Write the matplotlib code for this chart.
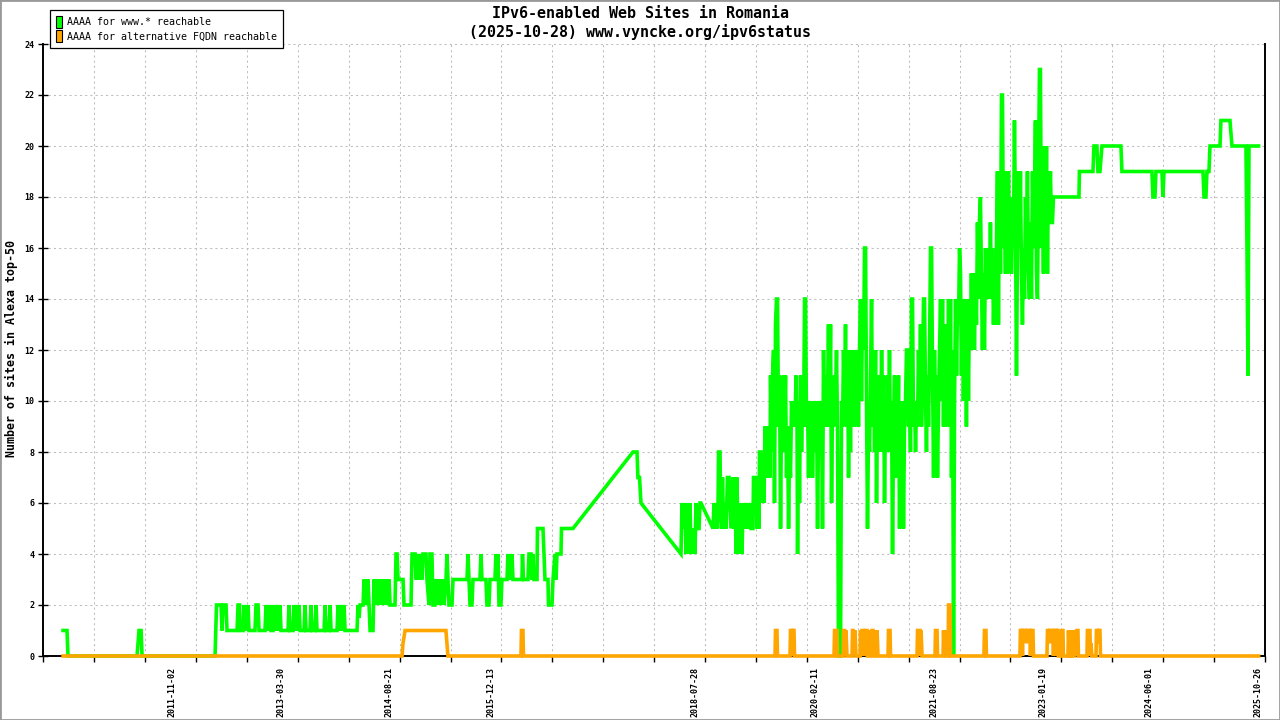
"""
IPv6-enabled web sites in Romania (vyncke.org ipv6status style chart)
"""
import numpy as np
import pandas as pd
import matplotlib
matplotlib.use('Agg')
import matplotlib.pyplot as plt
from matplotlib.patches import Patch, Rectangle

plt.rcParams['font.family'] = ['DejaVu Sans Mono']

title_line1 = "IPv6-enabled Web Sites in Romania"
title_line2 = "(2025-10-28) www.vyncke.org/ipv6status"
y_label = "Number of sites in Alexa top-50"
legend_labels = ["AAAA for www.* reachable", "AAAA for alternative FQDN reachable"]

label_dates = ["2011-11-02", "2013-03-30", "2014-08-21", "2015-12-13", "2018-07-28",
               "2020-02-11", "2021-08-23", "2023-01-19", "2024-06-01", "2025-10-26"]
y_ticks = list(range(0, 25, 2))

# green series: sites with AAAA for www.* (decimal year, count)
www_year = [
    2010.438, 2010.489, 2010.502, 2011.390, 2011.416, 2011.442, 2011.455, 2012.394, 2012.413,
    2012.420, 2012.471, 2012.484, 2012.497, 2012.535, 2012.548, 2012.677, 2012.690, 2012.709, 2012.715,
    2012.754, 2012.767, 2012.780, 2012.793, 2012.806, 2012.818, 2012.831, 2012.908, 2012.921, 2012.947, 2012.960,
    2013.037, 2013.050, 2013.063, 2013.076, 2013.089, 2013.102, 2013.114, 2013.140, 2013.153, 2013.166,
    2013.179, 2013.192, 2013.205, 2013.217, 2013.230, 2013.243, 2013.333, 2013.346, 2013.359, 2013.398,
    2013.410, 2013.423, 2013.436, 2013.449, 2013.475, 2013.488, 2013.539, 2013.552, 2013.565, 2013.616,
    2013.629, 2013.642, 2013.681, 2013.694, 2013.706, 2013.797, 2013.810, 2013.822, 2013.861, 2013.874,
    2013.887, 2013.964, 2013.977, 2013.990,
    2014.003, 2014.015, 2014.028, 2014.041, 2014.054, 2014.067, 2014.093, 2014.221, 2014.234, 2014.247,
    2014.260, 2014.299, 2014.311, 2014.324, 2014.337, 2014.350, 2014.363, 2014.376, 2014.389, 2014.427,
    2014.440, 2014.453, 2014.466, 2014.479, 2014.492, 2014.517, 2014.530, 2014.543, 2014.569, 2014.582,
    2014.594, 2014.607, 2014.633, 2014.646, 2014.710, 2014.723, 2014.736, 2014.749, 2014.813, 2014.826,
    2014.916, 2014.929, 2014.968, 2014.981, 2014.992,
    2015.018, 2015.031, 2015.057, 2015.069, 2015.108, 2015.121, 2015.147, 2015.160, 2015.185, 2015.198,
    2015.224, 2015.237, 2015.250, 2015.263, 2015.275, 2015.288, 2015.301, 2015.327, 2015.340, 2015.366,
    2015.379, 2015.391, 2015.404, 2015.443, 2015.456, 2015.636, 2015.649, 2015.662, 2015.675, 2015.700,
    2015.713, 2015.803, 2015.816, 2015.829, 2015.880, 2015.893, 2015.919, 2015.932, 2015.996,
    2016.009, 2016.022, 2016.035, 2016.048, 2016.073, 2016.086, 2016.151, 2016.163, 2016.176, 2016.189,
    2016.202, 2016.215, 2016.228, 2016.344, 2016.350, 2016.363, 2016.421, 2016.434, 2016.460, 2016.472,
    2016.485, 2016.498, 2016.537, 2016.543, 2016.614, 2016.627, 2016.640, 2016.678, 2016.685, 2016.730,
    2016.743, 2016.769, 2016.782, 2016.794, 2016.846, 2016.852, 2017.000,
    2017.772, 2017.824, 2017.836, 2017.856, 2017.875,
    2018.390, 2018.403, 2018.422, 2018.441, 2018.454, 2018.467, 2018.480, 2018.493, 2018.506, 2018.519,
    2018.538, 2018.544, 2018.557, 2018.570, 2018.583, 2018.596, 2018.622, 2018.634, 2018.647, 2018.802,
    2018.815, 2018.828, 2018.841, 2018.854, 2018.867, 2018.873, 2018.892, 2018.899, 2018.911, 2018.924,
    2018.937, 2018.957, 2018.970, 2018.988,
    2019.008, 2019.021, 2019.033, 2019.059, 2019.072, 2019.085, 2019.098, 2019.111, 2019.124, 2019.136,
    2019.149, 2019.162, 2019.175, 2019.188, 2019.201, 2019.226, 2019.239, 2019.252, 2019.265, 2019.278,
    2019.291, 2019.316, 2019.323, 2019.355, 2019.368, 2019.381, 2019.394, 2019.400, 2019.419, 2019.432,
    2019.445, 2019.458, 2019.471, 2019.484, 2019.497, 2019.510, 2019.523, 2019.535, 2019.542, 2019.555,
    2019.568, 2019.581, 2019.593, 2019.606, 2019.619, 2019.632, 2019.645, 2019.658, 2019.671, 2019.684,
    2019.696, 2019.709, 2019.722, 2019.735, 2019.748, 2019.761, 2019.774, 2019.786, 2019.799, 2019.812,
    2019.831, 2019.844, 2019.857, 2019.870, 2019.883, 2019.890, 2019.902, 2019.915, 2019.928, 2019.941,
    2019.954, 2019.967, 2019.980, 2019.993,
    2020.005, 2020.018, 2020.031, 2020.044, 2020.057, 2020.069, 2020.082, 2020.095, 2020.108, 2020.121,
    2020.134, 2020.147, 2020.160, 2020.172, 2020.185, 2020.198, 2020.211, 2020.224, 2020.237, 2020.250,
    2020.263, 2020.275, 2020.288, 2020.301, 2020.314, 2020.327, 2020.340, 2020.353, 2020.366, 2020.378,
    2020.391, 2020.404, 2020.417, 2020.443, 2020.456, 2020.469, 2020.481, 2020.494, 2020.507, 2020.520,
    2020.533, 2020.546, 2020.558, 2020.571, 2020.584, 2020.597, 2020.610, 2020.623, 2020.636, 2020.649,
    2020.662, 2020.674, 2020.687, 2020.700, 2020.713, 2020.726, 2020.739, 2020.752, 2020.765, 2020.777,
    2020.790, 2020.803, 2020.816, 2020.829, 2020.842, 2020.855, 2020.868, 2020.881, 2020.893, 2020.906,
    2020.919, 2020.932, 2020.945, 2020.958, 2020.971, 2020.984, 2020.996,
    2021.009, 2021.022, 2021.035, 2021.048, 2021.060, 2021.073, 2021.086, 2021.099, 2021.112, 2021.125,
    2021.138, 2021.150, 2021.163, 2021.176, 2021.189, 2021.202, 2021.215, 2021.228, 2021.240, 2021.253,
    2021.266, 2021.279, 2021.292, 2021.305, 2021.318, 2021.331, 2021.343, 2021.356, 2021.369, 2021.382,
    2021.395, 2021.408, 2021.421, 2021.434, 2021.446, 2021.459, 2021.472, 2021.485, 2021.498, 2021.511,
    2021.524, 2021.537, 2021.549, 2021.562, 2021.575, 2021.588, 2021.601, 2021.614, 2021.627, 2021.640,
    2021.652, 2021.665, 2021.678, 2021.691, 2021.704, 2021.717, 2021.730, 2021.743, 2021.755, 2021.768,
    2021.781, 2021.794, 2021.807, 2021.820, 2021.833, 2021.846, 2021.858, 2021.871, 2021.884, 2021.897,
    2021.910, 2021.923, 2021.936, 2021.949, 2021.961, 2021.974, 2021.987, 2021.999,
    2022.012, 2022.024, 2022.037, 2022.050, 2022.063, 2022.076, 2022.089, 2022.102, 2022.115, 2022.127,
    2022.140, 2022.153, 2022.166, 2022.179, 2022.192, 2022.205, 2022.218, 2022.230, 2022.243, 2022.256,
    2022.269, 2022.282, 2022.295, 2022.308, 2022.321, 2022.333, 2022.346, 2022.359, 2022.372, 2022.385,
    2022.398, 2022.411, 2022.424, 2022.436, 2022.449, 2022.462, 2022.475, 2022.488, 2022.501, 2022.514,
    2022.527, 2022.539, 2022.552, 2022.565, 2022.578, 2022.591, 2022.604, 2022.617, 2022.630, 2022.642,
    2022.655, 2022.668, 2022.681, 2022.694, 2022.707, 2022.720, 2022.733, 2022.745, 2022.758, 2022.771,
    2022.784, 2022.797, 2022.810, 2022.823, 2022.836, 2022.848, 2022.861, 2022.874, 2022.887, 2022.900,
    2022.913, 2022.926, 2022.939, 2022.951, 2022.964, 2022.977, 2022.990,
    2023.003, 2023.015, 2023.028, 2023.041, 2023.054, 2023.067, 2023.080, 2023.093, 2023.106, 2023.118,
    2023.131, 2023.144, 2023.157, 2023.170, 2023.183, 2023.511, 2023.517, 2023.691, 2023.704, 2023.742,
    2023.755, 2023.781, 2023.807, 2024.051,
    2024.064, 2024.450, 2024.463, 2024.489, 2024.502, 2024.579, 2024.592, 2024.605, 2025.107,
    2025.120, 2025.145, 2025.158, 2025.184, 2025.197, 2025.326, 2025.338, 2025.454, 2025.480, 2025.660,
    2025.673, 2025.686, 2025.699, 2025.822,
]
www_count = [
    1, 1, 0, 0, 1, 1, 0, 0, 2,
    2, 2, 1, 2, 2, 1, 1, 2, 2, 1,
    1, 2, 1, 2, 1, 2, 1, 1, 2, 2, 1,
    1, 2, 1, 2, 1, 2, 1, 1, 2, 1,
    2, 1, 2, 1, 2, 1, 1, 2, 1, 1,
    2, 1, 2, 1, 2, 1, 1, 2, 1, 1,
    2, 1, 1, 2, 1, 1, 2, 1, 1, 2,
    1, 1, 2, 1,
    2, 1, 2, 1, 2, 1, 1, 1, 2, 1.5,
    2, 2, 3, 2, 3, 2, 3, 2, 1, 1,
    3, 2, 3, 2, 3, 2, 3, 2, 3, 2,
    3, 2, 3, 2, 2, 4, 4, 3, 3, 2,
    2, 4, 4, 3, 4,
    3, 4, 3, 4, 4, 3, 2, 4, 4, 2,
    2, 3, 2, 3, 2, 3, 2, 3, 2, 3,
    4, 3, 2, 2, 3, 3, 4, 3, 2, 2,
    3, 3, 4, 3, 3, 2, 2, 3, 3,
    4, 3, 4, 2, 2, 3, 3, 4, 3, 4,
    3, 4, 3, 3, 4, 3, 3, 4, 4, 3,
    4, 3, 3, 5, 5, 4, 3, 3, 2, 2,
    3, 4, 3, 4, 4, 5, 5,
    8, 8, 7, 7, 6,
    4, 6, 5, 6, 4, 6, 5, 4, 6, 4,
    5, 4, 5, 4, 6, 5, 5, 6, 6, 5,
    6, 5, 6, 5, 6, 8, 8, 6, 5, 7,
    5, 6, 5, 7,
    7, 6, 5, 7, 5, 7, 4, 7, 4, 6,
    4, 5, 4, 6, 5, 6, 5, 6, 5, 6,
    5, 5, 7, 7, 5, 6, 5, 8, 8, 6,
    7, 6, 9, 7, 9, 7, 9, 7, 11, 8,
    11, 12, 6, 13, 14, 14, 9, 11, 5, 10,
    8, 11, 9, 11, 7, 9, 5, 8, 7, 10,
    9, 10, 9, 11, 9, 4, 10, 6, 11, 8,
    10, 9, 14, 14,
    9, 10, 7, 10, 8, 10, 7, 9, 10, 8,
    10, 5, 9, 10, 8, 10, 5, 12, 9, 11,
    9, 10, 13, 9, 13, 6, 10, 9, 11, 10,
    12, 9, 0, 0, 10, 9, 12, 10, 13, 9,
    12, 7, 11, 8, 12, 10, 12, 9, 12, 10,
    11, 9, 12, 14, 10, 14, 12, 16, 16, 10,
    5, 9, 8, 11, 14, 9, 11, 8, 12, 6,
    10, 9, 11, 8, 12, 9, 11,
    6, 10, 8, 11, 9, 12, 8, 10, 4, 9,
    11, 7, 10, 8, 11, 5, 9, 7, 10, 5,
    9, 10, 12, 12, 9, 10, 8, 14, 14, 9,
    10, 8, 10, 9, 12, 10, 13, 9, 11, 14,
    14, 10, 8, 11, 9, 12, 16, 16, 11, 7,
    12, 9, 11, 7, 10, 12, 14, 10, 14, 9,
    13, 9, 13, 10, 14, 9, 14, 7, 12, 0,
    10, 14, 11, 14, 13, 16, 15, 11,
    14, 10, 13, 14, 9, 14, 10, 14, 12, 15,
    12, 15, 12, 15, 13, 17, 14, 17, 18, 15,
    12, 15, 12, 16, 14, 15, 16, 14, 17, 14,
    16, 13, 15, 13, 16, 19, 13, 19, 15, 22,
    22, 16, 18, 15, 19, 15, 19, 16, 18, 15,
    17, 16, 21, 17, 11, 16, 19, 16, 19, 15,
    13, 16, 14, 18, 16, 19, 15, 14, 17, 14,
    19, 16, 18, 21, 15, 14, 19,
    23, 23, 16, 19, 15, 20, 16, 20, 15, 19,
    18, 19, 17, 17, 18, 18, 19, 19, 20, 20,
    19, 19, 20, 20,
    19, 19, 18, 18, 19, 19, 18, 19, 19,
    18, 18, 19, 19, 20, 20, 21, 21, 20, 20,
    16, 11, 20, 20,
]

# orange series: sites with AAAA for an alternative FQDN (decimal year, count)
alt_year = [
    2010.438, 2014.800, 2014.813, 2014.839, 2015.365, 2015.378, 2015.391, 2016.331, 2016.337, 2016.356,
    2016.363, 2019.600, 2019.606, 2019.625, 2019.632, 2019.793, 2019.799, 2019.818, 2019.825, 2019.831,
    2019.844, 2019.851, 2020.359, 2020.366, 2020.398, 2020.404, 2020.475, 2020.481, 2020.494, 2020.501,
    2020.513, 2020.526, 2020.591, 2020.597, 2020.604, 2020.610, 2020.629, 2020.642, 2020.694, 2020.700,
    2020.713, 2020.719, 2020.732, 2020.739, 2020.745, 2020.758, 2020.771, 2020.784, 2020.790, 2020.822,
    2020.829, 2020.842, 2020.848, 2020.861, 2020.868, 2020.887, 2020.893, 2020.906, 2020.913, 2020.925,
    2021.054, 2021.060, 2021.080, 2021.086, 2021.427, 2021.434, 2021.466, 2021.472, 2021.479, 2021.492,
    2021.659, 2021.665, 2021.685, 2021.691, 2021.762, 2021.768, 2021.781, 2021.788, 2021.800, 2021.826,
    2021.833, 2021.852, 2021.858, 2022.288, 2022.295, 2022.314, 2022.320, 2022.751, 2022.758, 2022.777,
    2022.784, 2022.790, 2022.829, 2022.836, 2022.842, 2022.881, 2022.887, 2022.894, 2022.919, 2022.926,
    2023.099, 2023.106, 2023.125, 2023.131, 2023.138, 2023.176, 2023.183, 2023.189, 2023.215, 2023.221,
    2023.228, 2023.241, 2023.247, 2023.266, 2023.273, 2023.286, 2023.292, 2023.305, 2023.311, 2023.369,
    2023.376, 2023.389, 2023.408, 2023.414, 2023.427, 2023.447, 2023.453, 2023.466, 2023.485, 2023.498,
    2023.504, 2023.614, 2023.620, 2023.652, 2023.659, 2023.665, 2023.678, 2023.730, 2023.736, 2023.755,
    2023.762, 2023.768, 2023.781, 2023.788, 2025.822,
]
alt_count = [
    0, 0, 0.5, 1, 1, 0.5, 0, 0, 1, 1,
    0, 0, 1, 1, 0, 0, 1, 1, 0, 1,
    1, 0, 0, 1, 1, 0, 0, 1, 1, 0,
    1, 0, 0, 1, 1, 0, 1, 0, 0, 1,
    0, 1, 1, 0, 1, 0, 1, 1, 0, 0,
    1, 0, 1, 1, 0, 0, 1, 0, 1, 0,
    0, 1, 1, 0, 0, 1, 1, 0, 1, 0,
    0, 1, 1, 0, 0, 1, 0, 1, 0, 0,
    2, 2, 0, 0, 1, 1, 0, 0, 1, 1,
    0, 1, 1, 0.5, 1, 1, 0, 1, 1, 0,
    0, 1, 1, 0.5, 1, 1, 0, 1, 1, 0,
    1, 1, 0, 0, 1, 0, 1, 1, 0, 0,
    1, 0, 0, 1, 0, 0, 1, 0, 1, 1,
    0, 0, 1, 1, 0, 0.5, 0, 0, 1, 1,
    0.5, 1, 1, 0, 0,
]


def decimal_year(date_str):
    d = pd.Timestamp(date_str)
    days_in_year = 366 if d.is_leap_year else 365
    return d.year + (d.dayofyear - 1) / days_in_year


fig = plt.figure(figsize=(12.8, 7.2), dpi=100)
ax = fig.add_axes([43.3 / 1280, 64 / 720, (1265 - 43.3) / 1280, 612 / 720])

# lines are drawn over the bottom spine, like the original renderer does
ax.plot(www_year, www_count, color='#00ff00', lw=2.6, zorder=6, clip_on=False,
        solid_joinstyle='miter')
ax.plot(alt_year, alt_count, color='#ffa500', lw=2.6, zorder=7, clip_on=False,
        solid_joinstyle='miter')

x_min, x_max = 2010.184, 2025.905
ax.set_xlim(x_min, x_max)
ax.set_ylim(0, 24)

# labelled date ticks (no mark) and evenly spaced grid ticks
label_pos = [decimal_year(d) for d in label_dates]
ax.set_xticks(label_pos)
ax.set_xticklabels(label_dates, rotation=90, fontsize=6, fontweight='bold', va='top')
ax.set_xticks(np.linspace(x_min, x_max, 25), minor=True)
ax.tick_params(axis='x', which='major', length=0, pad=8)
ax.tick_params(axis='x', which='minor', direction='out', length=4.3, width=1.0)

ax.set_yticks(y_ticks)
ax.set_yticklabels([str(v) for v in y_ticks], fontsize=6, fontweight='bold')
ax.tick_params(axis='y', direction='inout', length=7.2, width=1.0, pad=3)

grid_style = dict(color='#bdbdbd', lw=0.75, linestyle=(0, (2, 3)))
ax.xaxis.grid(True, which='minor', **grid_style)
ax.yaxis.grid(True, which='major', **grid_style)
ax.set_axisbelow(True)

ax.spines['top'].set_visible(False)
for side in ['left', 'bottom', 'right']:
    ax.spines[side].set_linewidth(1.4)
    ax.spines[side].set_zorder(5)

fig.text(0.5, 1 - 13.5 / 720, title_line1, ha='center', va='center', fontsize=10.8, fontweight='bold')
fig.text(0.5, 1 - 31.8 / 720, title_line2, ha='center', va='center', fontsize=10.8, fontweight='bold')
fig.text(11.7 / 1280, 1 - 348 / 720, y_label, rotation=90, ha='center', va='center',
         fontsize=8.4, fontweight='bold')

handles = [Patch(facecolor='#00ff00', edgecolor='black', lw=0.8),
           Patch(facecolor='#ffa500', edgecolor='black', lw=0.8)]
leg = ax.legend(handles, legend_labels, loc='upper left', bbox_to_anchor=(50 / 1280, 1 - 10 / 720),
                bbox_transform=fig.transFigure, borderaxespad=0, fontsize=7.2,
                handlelength=0.6, handleheight=1.5, handletextpad=0.5, labelspacing=0.2,
                borderpad=0.6, fancybox=False, framealpha=1, edgecolor='black')
leg.get_frame().set_linewidth(0.9)
leg.set_zorder(10)

fig.add_artist(Rectangle((0, 0), 1, 1, transform=fig.transFigure, fill=False,
                         edgecolor='#999999', lw=2))

fig.savefig('out.png', dpi=100)
